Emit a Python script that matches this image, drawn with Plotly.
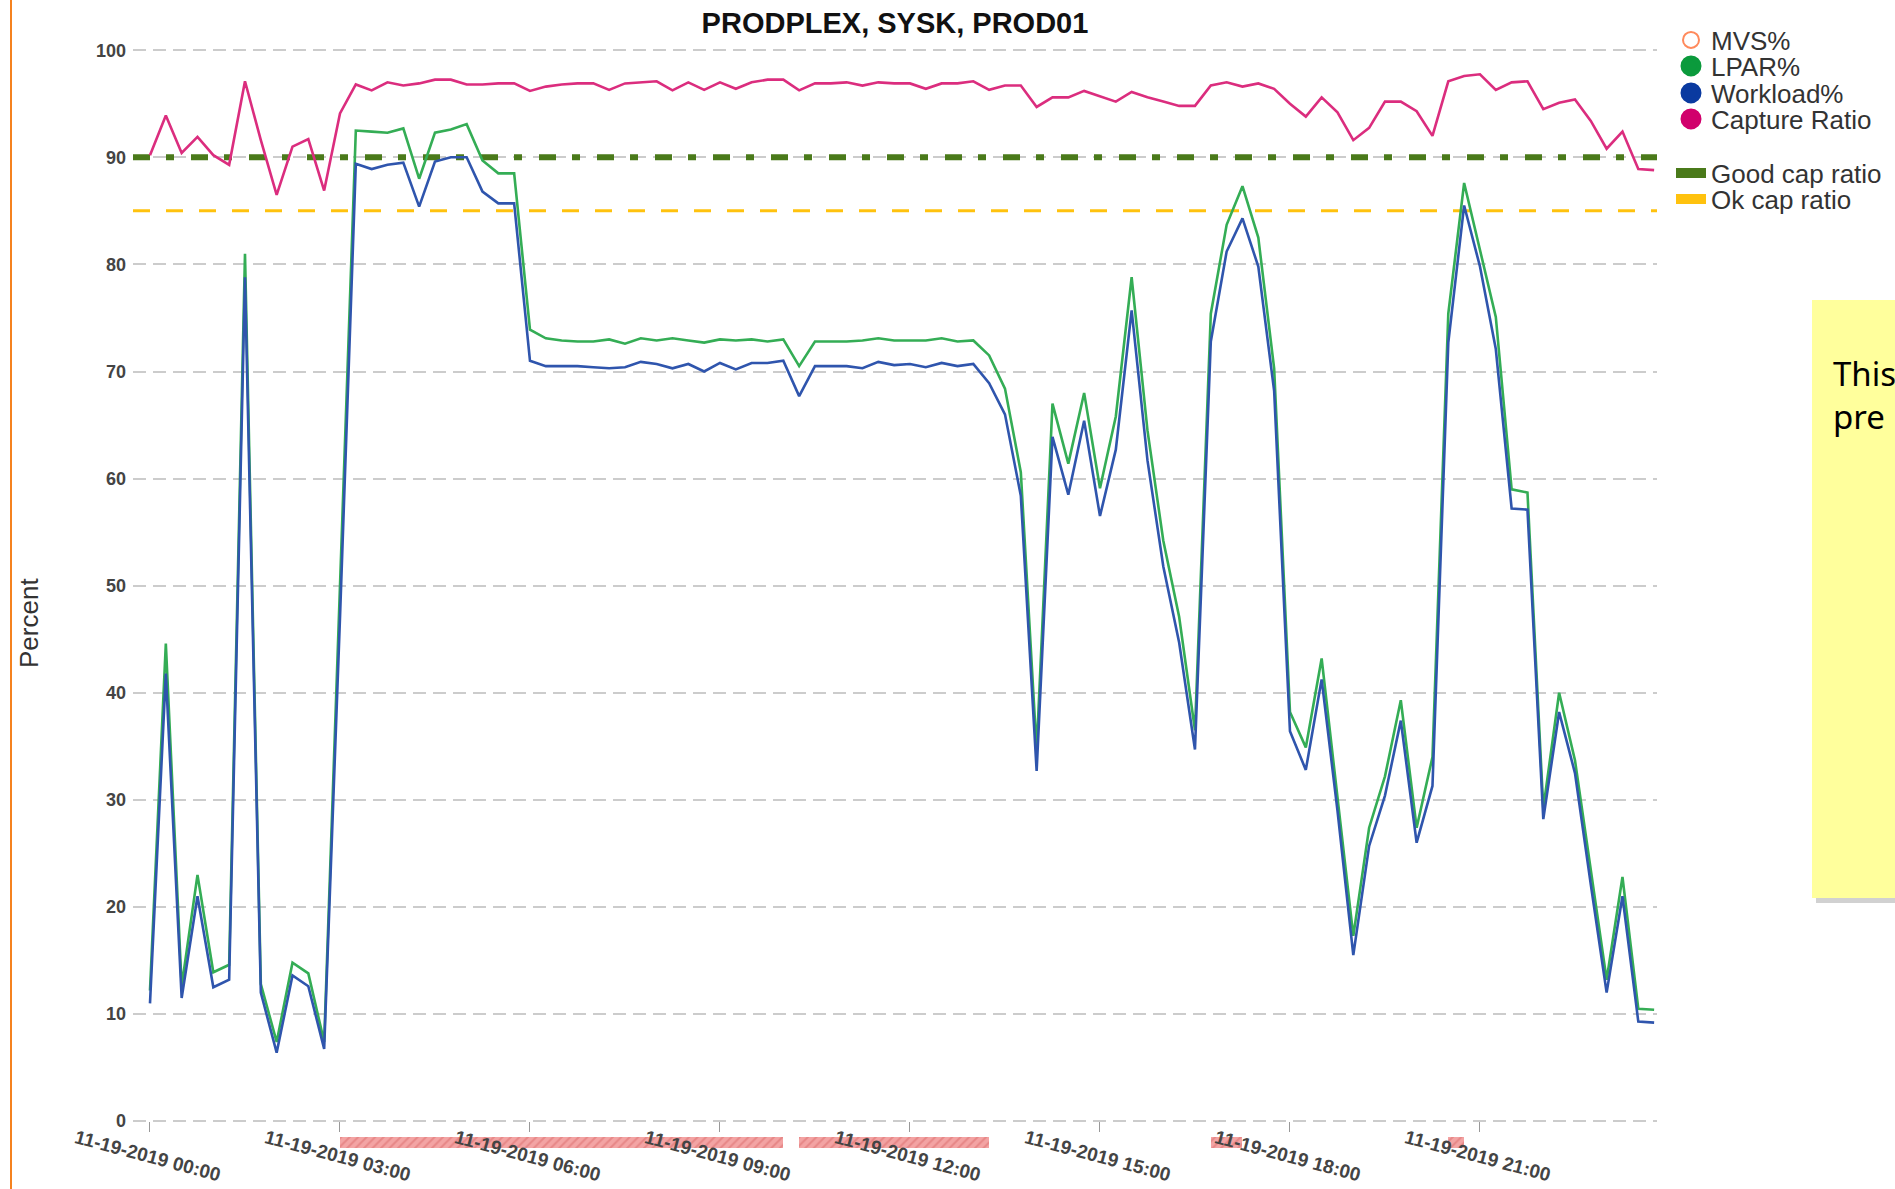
import pandas as pd
import plotly.graph_objects as go

TITLE = "PRODPLEX, SYSK, PROD01"
START = "2019-11-19 00:00"
X_RANGE = ["2019-11-18 23:43:54", "2019-11-19 23:47:43"]

# 15-minute samples, 00:00 .. 23:45
lpar_pct = [
    12.2, 44.6, 12.6, 23.0, 13.9, 14.6, 81.0, 12.8, 7.4, 14.8, 13.8, 7.4,
    50.0, 92.5, 92.4, 92.3, 92.7, 88.0, 92.3, 92.6, 93.1, 89.7, 88.5, 88.5,
    73.9, 73.1, 72.9, 72.8, 72.8, 73.0, 72.6, 73.1, 72.9, 73.1, 72.9, 72.7,
    73.0, 72.9, 73.0, 72.8, 73.0, 70.5, 72.8, 72.8, 72.8, 72.9, 73.1, 72.9,
    72.9, 72.9, 73.1, 72.8, 72.9, 71.5, 68.4, 60.6, 34.6, 67.0, 61.4, 68.0,
    59.1, 65.8, 78.8, 64.5, 54.2, 47.1, 36.5, 75.4, 83.7, 87.3, 82.5, 70.3,
    38.2, 34.9, 43.2, 30.5, 17.3, 27.4, 32.2, 39.3, 27.4, 34.0, 75.4, 87.6,
    81.3, 75.1, 59.0, 58.7, 29.2, 40.0, 33.7, 23.3, 13.2, 22.8, 10.5, 10.4,
]
workload_pct = [
    11.0, 41.8, 11.5, 21.0, 12.5, 13.2, 78.8, 12.0, 6.4, 13.6, 12.6, 6.75,
    47.0, 89.4, 88.9, 89.3, 89.5, 85.4, 89.6, 90.0, 90.0, 86.8, 85.7, 85.7,
    71.0, 70.5, 70.5, 70.5, 70.4, 70.3, 70.4, 70.9, 70.7, 70.3, 70.7, 70.0,
    70.8, 70.2, 70.8, 70.8, 71.0, 67.7, 70.5, 70.5, 70.5, 70.3, 70.9, 70.6,
    70.7, 70.4, 70.8, 70.5, 70.7, 68.9, 66.0, 58.4, 32.7, 63.9, 58.5, 65.4,
    56.5, 62.7, 75.7, 61.7, 51.8, 44.7, 34.7, 72.8, 81.2, 84.3, 79.8, 68.2,
    36.4, 32.8, 41.25, 29.0, 15.5, 25.7, 30.4, 37.4, 26.0, 31.3, 72.7, 85.5,
    79.8, 72.1, 57.2, 57.1, 28.2, 38.2, 32.5, 22.1, 12.0, 21.0, 9.3, 9.2,
]
capture_ratio = [
    90.2, 93.9, 90.4, 91.9, 90.2, 89.3, 97.1, 91.6, 86.5, 91.0, 91.7, 86.9,
    94.1, 96.8, 96.25, 97.0, 96.7, 96.9, 97.25, 97.25, 96.8, 96.8, 96.9, 96.9,
    96.2, 96.6, 96.8, 96.9, 96.9, 96.3, 96.9, 97.0, 97.1, 96.25, 97.0, 96.3,
    97.0, 96.4, 97.0, 97.25, 97.25, 96.25, 96.9, 96.9, 97.0, 96.7, 97.0, 96.9,
    96.9, 96.4, 96.9, 96.9, 97.1, 96.3, 96.7, 96.7, 94.7, 95.6, 95.6, 96.2,
    95.7, 95.2, 96.1, 95.6, 95.2, 94.8, 94.8, 96.7, 97.0, 96.6, 96.9, 96.4,
    95.0, 93.8, 95.6, 94.2, 91.6, 92.75, 95.2, 95.2, 94.3, 92.0, 97.1, 97.6,
    97.75, 96.3, 97.0, 97.1, 94.5, 95.1, 95.4, 93.4, 90.8, 92.4, 88.9, 88.8,
]

GOOD_CAP = 90
OK_CAP = 85

# capped intervals shown under the time axis
cap_start = ["2019-11-19 03:00", "2019-11-19 10:15", "2019-11-19 16:45", "2019-11-19 20:30"]
cap_end = ["2019-11-19 10:00", "2019-11-19 13:15", "2019-11-19 17:15", "2019-11-19 20:45"]

times = pd.date_range(START, periods=len(lpar_pct), freq="15min")

W, H = 1895, 1189
L, R, T, B = 133, 1657, 47, 1149  # plot area in pixels
Y_MIN, Y_MAX = -2.6, 100.3


def px_x(x):
    return (x - L) / (R - L)


def px_y(y):
    return (B - y) / (B - T)


FONT = "Liberation Sans, Arial, sans-serif"

fig = go.Figure()

# one small legend per entry so the rows can sit as tight as in the original
legend_items = [
    ("MVS%", "open", "#ff8a5c", 40),
    ("LPAR%", "dot", "#0b9a3c", 66),
    ("Workload%", "dot", "#0a3aa0", 93),
    ("Capture Ratio", "dot", "#d1006c", 119),
    ("Good cap ratio", "bar", "#4a7a1a", 173),
    ("Ok cap ratio", "bar", "#ffc20e", 199),
]
legend_layout = {}
for k, (name, kind, color, yc) in enumerate(legend_items):
    key = "legend" if k == 0 else f"legend{k + 1}"
    if kind == "bar":
        trace = go.Scatter(x=[None], y=[None], mode="lines", name=name,
                           line={"color": color, "width": 10})
    elif kind == "open":
        trace = go.Scatter(x=[None], y=[None], mode="markers", name=name,
                           marker={"symbol": "circle", "size": 16, "color": "#ffffff",
                                   "line": {"color": color, "width": 2}})
    else:
        trace = go.Scatter(x=[None], y=[None], mode="markers", name=name,
                           marker={"symbol": "circle", "size": 16, "color": color,
                                   "line": {"color": color, "width": 5}})
    trace.legend = key
    fig.add_trace(trace)
    legend_layout[key] = {
        "xref": "container", "yref": "container", "x": 1671 / W, "y": 1 - yc / H,
        "xanchor": "left", "yanchor": "middle", "bgcolor": "rgba(0,0,0,0)",
        "font": {"family": FONT, "size": 26, "color": "#333333"},
    }

cap_ms = [(pd.Timestamp(e) - pd.Timestamp(s)).total_seconds() * 1000 for s, e in zip(cap_start, cap_end)]
fig.add_trace(
    go.Bar(
        orientation="h", base=cap_start, x=cap_ms, y=[-2] * len(cap_ms), width=1.0,
        marker={"color": "#f08c8c", "line": {"width": 0},
                "pattern": {"shape": "/", "fgcolor": "#d65a5a", "bgcolor": "#f29a9a", "size": 6, "solidity": 0.35}},
        opacity=0.9, showlegend=False, hoverinfo="skip",
    )
)

# threshold lines across the whole time range, under the data lines
thresholds = [
    (GOOD_CAP, "#4a7a1a", 6, "17px,16px,8px,17px"),
    (OK_CAP, "#ffc20e", 3, "17px,16px"),
]
for level, color, width, dash in thresholds:
    fig.add_trace(
        go.Scatter(
            x=X_RANGE, y=[level, level], mode="lines", showlegend=False, hoverinfo="skip",
            line={"color": color, "width": width, "dash": dash},
        )
    )

series = [
    ("LPAR%", lpar_pct, "#34ad55"),
    ("Workload%", workload_pct, "#2f55ad"),
    ("Capture Ratio", capture_ratio, "#db2d7e"),
]
for name, values, color in series:
    fig.add_trace(
        go.Scatter(
            x=times, y=values, mode="lines", name=name, showlegend=False,
            line={"color": color, "width": 2.6},
        )
    )

# orange bar on the left, sticky note on the right
fig.add_shape(type="line", xref="paper", yref="paper", x0=px_x(11), x1=px_x(11),
              y0=px_y(H + 5), y1=px_y(-5), line={"color": "#f5821f", "width": 2})
fig.add_shape(type="rect", xref="paper", yref="paper", x0=px_x(1816), x1=px_x(1960),
              y0=px_y(903), y1=px_y(304), fillcolor="rgba(0,0,0,0.18)", line={"width": 0})
fig.add_shape(type="rect", xref="paper", yref="paper", x0=px_x(1812), x1=px_x(1960),
              y0=px_y(898), y1=px_y(300), fillcolor="#ffff9c", line={"width": 0})
fig.add_annotation(text="This<br>pre", xref="paper", yref="paper", x=px_x(1831), y=px_y(349),
                   xanchor="left", yanchor="top", align="left", showarrow=False,
                   font={"family": "Noto Sans, sans-serif", "size": 33, "color": "#000000"})
fig.add_annotation(text="Percent", xref="paper", yref="paper", x=px_x(12), y=px_y(623),
                   textangle=-90, showarrow=False,
                   font={"family": FONT, "size": 26, "color": "#333333"})

fig.update_layout(
    width=W, height=H,
    margin={"l": L, "r": W - R, "t": T, "b": H - B, "autoexpand": False},
    paper_bgcolor="#ffffff",
    plot_bgcolor="#ffffff",
    font={"family": FONT, "color": "#333333"},
    title={"text": TITLE, "x": 0.5, "xref": "paper", "y": 1 - 23 / H, "yanchor": "middle",
           "font": {"family": FONT, "size": 29, "color": "#111111", "weight": "bold"}},
    showlegend=True,
    bargap=0,
    **legend_layout,
)
fig.update_yaxes(
    range=[Y_MIN, Y_MAX], tick0=0, dtick=10, showgrid=True, gridcolor="#cccccc", gridwidth=2,
    griddash="13px,7px", zeroline=False, showline=False, ticks="", ticklabelstandoff=6,
    tickfont={"family": FONT, "size": 18, "color": "#444444", "weight": "bold"},
)
fig.update_xaxes(
    type="date", range=X_RANGE,
    anchor="free", position=(0 - Y_MIN) / (Y_MAX - Y_MIN),
    tick0=START, dtick=3 * 3600 * 1000, tickformat="%m-%d-%Y %H:%M", tickangle=15,
    ticks="outside", ticklen=10, tickcolor="#999999", tickwidth=1,
    ticklabelshift=-74, ticklabelstandoff=-12,
    showgrid=False, zeroline=False, showline=False,
    tickfont={"family": FONT, "size": 19, "color": "#444444", "weight": "bold"},
)

fig.write_html(
    "out.html",
    config={"displayModeBar": False},
    post_script="document.body.style.margin='0';document.body.style.overflow='hidden';",
)
